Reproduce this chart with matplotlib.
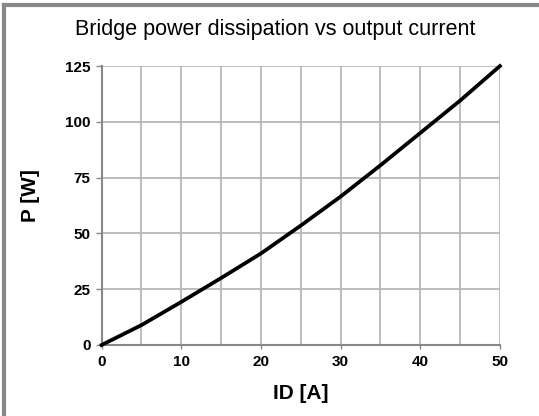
import matplotlib.pyplot as plt
from matplotlib.lines import Line2D

# values
current = [0, 5, 10, 15, 20, 25, 30, 35, 40, 45, 50]
power = [0, 8.9, 19.3, 30.0, 41.0, 53.5, 66.5, 80.5, 95.0, 109.5, 125.0]
x_ticks = [0, 10, 20, 30, 40, 50]
y_ticks = [0, 25, 50, 75, 100, 125]

plt.rcParams['font.family'] = ['Liberation Sans', 'DejaVu Sans']

fig = plt.figure(figsize=[5.39, 4.16], dpi=100)
ax = fig.add_axes([0.1885, 0.1707, 0.739, 0.6706])

ax.plot(current, power, color='black', linewidth=2.7, zorder=3, clip_on=False)

ax.set_xlim(0, 50)
ax.set_ylim(0, 125)
ax.set_xticks(x_ticks)
ax.set_xticks(range(0, 51, 5), minor=True)
ax.set_yticks(y_ticks)
ax.grid(True, which='both', axis='x', color='#b8b8b8', linewidth=1.3, zorder=0)
ax.grid(True, which='major', axis='y', color='#b8b8b8', linewidth=1.3, zorder=0)

for side in ['top', 'right']:
    ax.spines[side].set_visible(False)
for side in ['left', 'bottom']:
    ax.spines[side].set_color('#888888')
    ax.spines[side].set_linewidth(1.5)

ax.tick_params(axis='y', length=4, width=1, color='#888888', labelsize=11, pad=4)
ax.tick_params(axis='x', length=3, width=1, color='#888888', labelsize=11, pad=4)
ax.tick_params(which='minor', length=0)
for lbl in ax.get_xticklabels() + ax.get_yticklabels():
    lbl.set_fontweight('bold')

ax.set_xlabel('ID [A]', fontsize=15, fontweight='bold')
ax.set_ylabel('P [W]', fontsize=15, fontweight='bold')
ax.xaxis.set_label_coords(0.5, -0.14)
ax.yaxis.set_label_coords(-0.155, 0.537)
fig.text(0.511, 0.93, 'Bridge power dissipation vs output current',
         ha='center', va='center', fontsize=15.5)

# grey frame (only top and left edges fall inside the picture)
fig.add_artist(Line2D([0.008, 1.0], [0.989, 0.989], color='#888888', linewidth=3))
fig.add_artist(Line2D([0.008, 0.008], [0.0, 0.989], color='#888888', linewidth=3))

fig.savefig('out.png', dpi=100)
